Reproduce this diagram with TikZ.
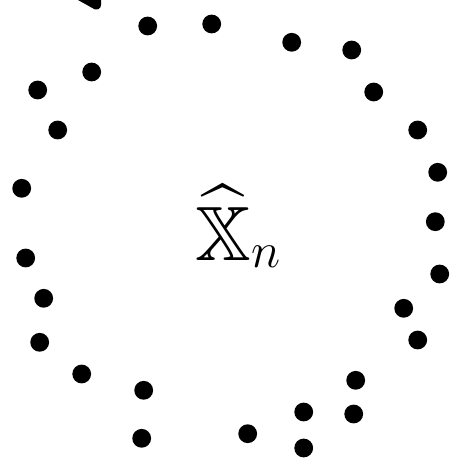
\documentclass[tikz,border=0pt]{standalone}
\usepackage{amssymb}
\begin{document}
\begin{tikzpicture}[x=0.5pt,y=-0.5pt,
  dot/.style={circle,fill=black,inner sep=0pt,minimum size=9.4pt},
  lbl/.style={inner sep=0pt,anchor=base west,font=\fontsize{38.5}{44}\selectfont}]
\useasboundingbox (0,0) rectangle (452,459);
\foreach \i/\x/\y in {1/147.7/26,2/211.7/24,3/291.7/42.3,4/351.7/50,5/91.7/72,6/37.7/90,
  7/373.7/92,8/57.7/130,9/417.7/130,10/437.7/172.3,11/21.7/188.3,12/435.3/221.7,
  13/25.7/258,14/439.7/274,15/43.7/298.3,16/403.7/308.3,17/417.7/340,18/39.7/342.3,
  19/81.7/374,20/355.7/380.3,21/143.7/390.3,22/303.7/412,23/353.7/414,24/247.7/433.7,
  25/141.7/438.3,26/303.7/448}
  \node[dot] (d\i) at (\x,\y) {};
\fill (78,0) -- (101,0) .. controls (102,7) and (100,10) .. (95,9.5) -- cycle;
\node[lbl] (lab) at (195,260) {$\widehat{\mathbb{X}}_n$};
\end{tikzpicture}
\end{document}
